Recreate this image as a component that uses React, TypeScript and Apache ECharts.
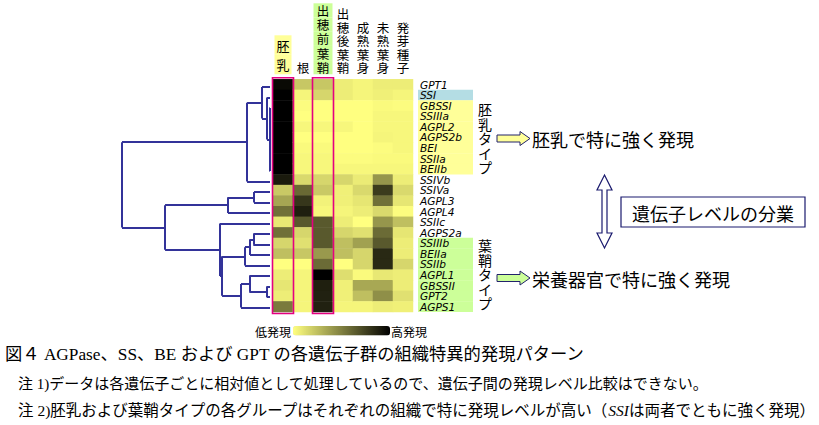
import React, { useEffect, useRef } from 'react';
import * as echarts from 'echarts';

const tissues = ['胚乳', '根', '出穂前葉鞘', '出穂後葉鞘', '成熟葉身', '未熟葉身', '発芽種子'];
const genes = ['GPT1', 'SSI', 'GBSSI', 'SSIIIa', 'AGPL2', 'AGPS2b', 'BEI', 'SSIIa', 'BEIIb', 'SSIVb', 'SSIVa', 'AGPL3', 'AGPL4', 'SSIIc', 'AGPS2a', 'SSIIIb', 'BEIIa', 'SSIIb', 'AGPL1', 'GBSSII', 'GPT2', 'AGPS1'];

// relative expression (0 = low, 100 = high), one array per tissue, in gene order
const endosperm = [96, 100, 100, 100, 100, 100, 100, 100, 100, 90, 21, 35, 56, 9, 56, 16, 25, 0, 7, 10, 7, 52];
const root = [22, 4, 1, 0, 3, 0, 2, 3, 3, 15, 59, 79, 88, 65, 16, 12, 22, 0, 4, 4, 4, 4];
const sheathBefore = [22, 16, 0, 0, 3, 0, 2, 3, 3, 16, 21, 5, 3, 65, 65, 65, 40, 58, 100, 88, 87, 87];
const sheathAfter = [7, 7, 0, 0, 3, 0, 0, 1, 3, 16, 6, 6, 4, 7, 16, 25, 25, 0, 13, 6, 6, 4];
const matureBlade = [4, 4, 0, 0, 0, 0, 0, 1, 3, 8, 15, 10, 7, 0, 12, 37, 16, 16, 2, 34, 25, 4];
const immatureBlade = [7, 6, 2, 3, 3, 4, 1, 2, 3, 41, 77, 56, 15, 41, 58, 65, 84, 84, 9, 34, 44, 7];
const germSeed = [7, 4, 1, 3, 3, 3, 3, 2, 3, 7, 15, 10, 1, 25, 10, 7, 7, 16, 7, 7, 12, 6];
const tissueValues = [endosperm, root, sheathBefore, sheathAfter, matureBlade, immatureBlade, germSeed];

const bothType = ['SSI'];
const endospermType = ['GBSSI', 'SSIIIa', 'AGPL2', 'AGPS2b', 'BEI', 'SSIIa', 'BEIIb'];
const sheathType = ['SSIIIb', 'BEIIa', 'SSIIb', 'AGPL1', 'GBSSII', 'GPT2', 'AGPS1'];
const boxedTissues = ['胚乳', '出穂前葉鞘'];
const legendText = ['低発現', '高発現'];

// dendrogram merges: [node, children, distance]
const dendroMerges: [string, string[], number][] = [
  ['A', ['GBSSI', 'SSIIIa', 'AGPL2', 'AGPS2b', 'BEI', 'SSIIa', 'BEIIb'], 0.004],
  ['B', ['SSI', 'A'], 0.02],
  ['C', ['GPT1', 'B'], 0.054],
  ['D', ['C', 'SSIVb'], 0.155],
  ['E', ['SSIVa', 'AGPL3'], 0.108],
  ['F', ['E', 'AGPL4'], 0.284],
  ['G', ['AGPS2a', 'SSIIIb'], 0.113],
  ['H', ['G', 'BEIIa'], 0.135],
  ['I', ['H', 'SSIIb'], 0.169],
  ['J', ['GBSSII', 'GPT2'], 0.023],
  ['K', ['AGPL1', 'J'], 0.14],
  ['L', ['K', 'AGPS1'], 0.196],
  ['N', ['I', 'L'], 0.324],
  ['M', ['SSIIc', 'N'], 0.338],
  ['O', ['F', 'M'], 0.709],
  ['R', ['D', 'O'], 1.0],
];

const JP = '"Noto Sans CJK JP", sans-serif';
const SERIF = '"Liberation Serif", "Noto Sans CJK JP", serif';

const App = () => {
  const ref = useRef<HTMLDivElement>(null);
  useEffect(() => {
    const chart = echarts.init(ref.current!, null, { renderer: 'svg' });

    const heatData: number[][] = [];
    tissueValues.forEach((arr, c) => arr.forEach((v, r) => heatData.push([c, r, v])));

    const pos: Record<string, { y: number; h: number }> = {};
    genes.forEach((g, i) => (pos[g] = { y: i, h: 0 }));
    const segs: any[] = [];
    dendroMerges.forEach(([name, children, h]) => {
      const ys = children.map((c) => pos[c].y);
      const y = ys.reduce((a, b) => a + b, 0) / ys.length;
      segs.push({ coords: [[h, Math.min(...ys)], [h, Math.max(...ys)]] });
      children.forEach((c) => segs.push({ coords: [[pos[c].h, pos[c].y], [h, pos[c].y]] }));
      pos[name] = { y, h };
    });

    const geneClass = (g: string) =>
      bothType.includes(g) ? 'both' : endospermType.includes(g) ? 'endo' : sheathType.includes(g) ? 'leaf' : 'plain';
    const geneBox = (bg: string) => ({
      backgroundColor: bg,
      width: 53,
      height: 10.8,
      lineHeight: 10.8,
      padding: [0, 0, 0, 2],
      fontSize: 10.6,
      fontStyle: 'italic',
      fontFamily: '"DejaVu Sans", "Liberation Sans", sans-serif',
      color: '#000',
    });

    const option: any = {
      animation: false,
      backgroundColor: '#ffffff',
      grid: [
        { left: 273, top: 79.3, width: 140, height: 232.7 },
        { left: 122, top: 81.75, width: 148, height: 231 },
      ],
      xAxis: [
        {
          type: 'category',
          gridIndex: 0,
          data: tissues,
          position: 'top',
          axisLine: { show: false },
          axisTick: { show: false },
          splitLine: { show: false },
          axisLabel: {
            interval: 0,
            margin: 5,
            verticalAlign: 'bottom',
            formatter: (v: string) => {
              const cls = v === '胚乳' ? 'e' : v === '出穂前葉鞘' ? 'g' : 'h';
              return v.split('').map((ch) => `{${cls}|${ch}}`).join('\n');
            },
            rich: {
              e: { backgroundColor: '#FFFF99', width: 17, height: 19.5, lineHeight: 19.5, align: 'center', fontSize: 13, fontFamily: JP, color: '#000' },
              g: { backgroundColor: '#CCFF99', width: 19, height: 14.2, lineHeight: 14.2, align: 'center', fontSize: 12.5, fontFamily: JP, color: '#000' },
              h: { height: 13.5, lineHeight: 13.5, align: 'center', fontSize: 12.5, fontFamily: JP, color: '#000' },
            },
          },
        },
        { type: 'value', gridIndex: 1, min: 0, max: 1, inverse: true, show: false },
      ],
      yAxis: [
        {
          type: 'category',
          gridIndex: 0,
          data: genes,
          inverse: true,
          position: 'right',
          axisLine: { show: false },
          axisTick: { show: false },
          splitLine: { show: false },
          axisLabel: {
            interval: 0,
            margin: 5,
            formatter: (v: string) => `{${geneClass(v)}|${v}}`,
            rich: {
              plain: geneBox('transparent'),
              both: geneBox('#B4DDE4'),
              endo: geneBox('#FFFF99'),
              leaf: geneBox('#CCFF99'),
            },
          },
        },
        { type: 'value', gridIndex: 1, min: -0.5, max: 21.5, inverse: true, show: false },
      ],
      visualMap: {
        type: 'continuous',
        seriesIndex: 0,
        min: 0,
        max: 100,
        orient: 'horizontal',
        left: 293,
        top: 326,
        itemWidth: 9.5,
        itemHeight: 97,
        padding: 0,
        showLabel: false,
        text: null,
        calculable: false,
        hoverLink: false,
        inRange: { color: ['#FFFF80', '#000000'] },
      },
      series: [
        {
          type: 'heatmap',
          xAxisIndex: 0,
          yAxisIndex: 0,
          data: heatData,
          itemStyle: { borderWidth: 0 },
          emphasis: { disabled: true },
          progressive: 0,
        },
        {
          type: 'custom',
          xAxisIndex: 0,
          yAxisIndex: 0,
          z: 5,
          clip: false,
          silent: true,
          data: boxedTissues.map((t) => [tissues.indexOf(t), 0]),
          renderItem: (params: any, api: any) => {
            const col = api.value(0);
            const top = api.coord([col, 0]);
            const bot = api.coord([col, genes.length - 1]);
            const size = api.size([1, 1]);
            return {
              type: 'rect',
              shape: {
                x: top[0] - size[0] / 2 - 0.5,
                y: top[1] - size[1] / 2 - 1.5,
                width: size[0] + 1,
                height: bot[1] - top[1] + size[1] + 3,
              },
              style: { fill: 'none', stroke: '#E4007F', lineWidth: 1.6 },
            };
          },
        },
        {
          type: 'lines',
          coordinateSystem: 'cartesian2d',
          xAxisIndex: 1,
          yAxisIndex: 1,
          silent: true,
          data: segs,
          lineStyle: { color: '#333399', width: 2, opacity: 1 },
        },
      ],
      graphic: [
        {
          type: 'text',
          style: { text: legendText[0], x: 291, y: 331, fontSize: 12, fontFamily: JP, fill: '#000', textAlign: 'right', align: 'right', textVerticalAlign: 'middle', verticalAlign: 'middle' },
        },
        {
          type: 'text',
          style: { text: legendText[1], x: 391, y: 331, fontSize: 12, fontFamily: JP, fill: '#000', textAlign: 'left', align: 'left', textVerticalAlign: 'middle', verticalAlign: 'middle' },
        },
        {
          type: 'text',
          style: { text: '胚\n乳\nタ\nイ\nプ', x: 485, y: 102, fontSize: 14, lineHeight: 14.5, fontFamily: JP, fill: '#000', textAlign: 'center', align: 'center', textVerticalAlign: 'top', verticalAlign: 'top' },
        },
        {
          type: 'text',
          style: { text: '葉\n鞘\nタ\nイ\nプ', x: 485, y: 238, fontSize: 14, lineHeight: 14.5, fontFamily: JP, fill: '#000', textAlign: 'center', align: 'center', textVerticalAlign: 'top', verticalAlign: 'top' },
        },
        {
          type: 'polygon',
          shape: { points: [[497, 135], [520, 135], [520, 131.5], [530, 138.5], [520, 145.5], [520, 142], [497, 142]] },
          style: { fill: '#FFFF99', stroke: '#22226B', lineWidth: 1 },
        },
        {
          type: 'text',
          style: { text: '胚乳で特に強く発現', x: 532, y: 139, fontSize: 18, fontFamily: JP, fill: '#000', textVerticalAlign: 'middle', verticalAlign: 'middle' },
        },
        {
          type: 'polygon',
          shape: { points: [[497, 274.5], [520, 274.5], [520, 271], [530, 278], [520, 285], [520, 281.5], [497, 281.5]] },
          style: { fill: '#CCFF99', stroke: '#22226B', lineWidth: 1 },
        },
        {
          type: 'text',
          style: { text: '栄養器官で特に強く発現', x: 532, y: 278.5, fontSize: 18, fontFamily: JP, fill: '#000', textVerticalAlign: 'middle', verticalAlign: 'middle' },
        },
        {
          type: 'polygon',
          shape: { points: [[604.5, 175], [612, 190], [607, 190], [607, 233], [612, 233], [604.5, 248], [597, 233], [602, 233], [602, 190], [597, 190]] },
          style: { fill: '#ffffff', stroke: '#1A1A6E', lineWidth: 1.2 },
        },
        {
          type: 'rect',
          shape: { x: 621, y: 197, width: 184, height: 30 },
          style: { fill: '#ffffff', stroke: '#1A1A6E', lineWidth: 1.2 },
        },
        {
          type: 'text',
          style: { text: '遺伝子レベルの分業', x: 713, y: 212.5, fontSize: 18, fontFamily: JP, fill: '#000', textAlign: 'center', align: 'center', textVerticalAlign: 'middle', verticalAlign: 'middle' },
        },
        {
          type: 'text',
          style: { text: '図４ AGPase、SS、BE および GPT の各遺伝子群の組織特異的発現パターン', x: 5, y: 354, fontSize: 17.3, fontFamily: SERIF, fill: '#000', textVerticalAlign: 'middle', verticalAlign: 'middle' },
        },
        {
          type: 'text',
          style: { text: '注 1)データは各遺伝子ごとに相対値として処理しているので、遺伝子間の発現レベル比較はできない。', x: 18, y: 384, fontSize: 15, fontFamily: SERIF, fill: '#000', textVerticalAlign: 'middle', verticalAlign: 'middle' },
        },
        {
          type: 'text',
          style: {
            text: '{n|注 2)胚乳および葉鞘タイプの各グループはそれぞれの組織で特に発現レベルが高い（}{i|SSI}{n|は両者でともに強く発現）}',
            x: 18,
            y: 410,
            fill: '#000',
            textVerticalAlign: 'middle',
            verticalAlign: 'middle',
            rich: {
              n: { fontSize: 15.5, fontFamily: SERIF, fill: '#000', color: '#000' },
              i: { fontSize: 15.5, fontFamily: SERIF, fontStyle: 'italic', fill: '#000', color: '#000' },
            },
          },
        },
      ],
    };

    chart.setOption(option);
    return () => chart.dispose();
  }, []);

  return <div ref={ref} style={{ position: 'absolute', left: 0, top: 0, width: 819, height: 425 }} />;
};

export default App;
